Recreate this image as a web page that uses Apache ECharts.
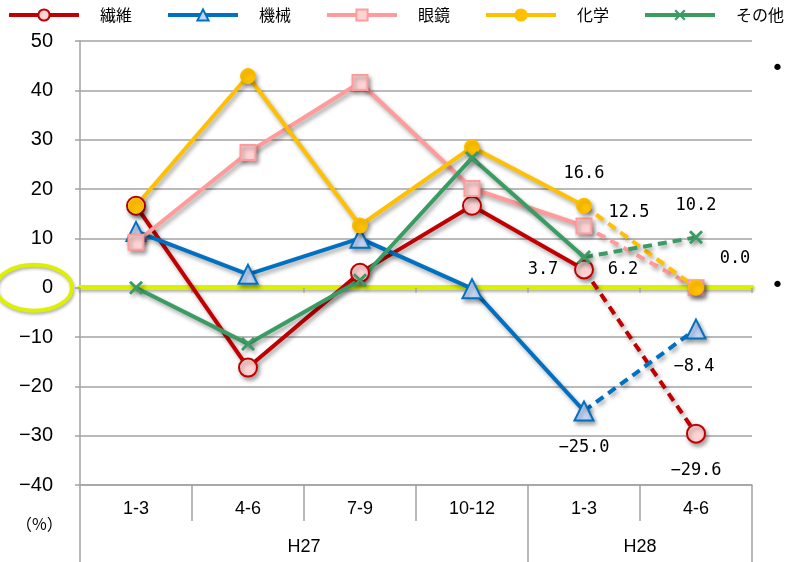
<!DOCTYPE html>
<html><head><meta charset="utf-8">
<script src="https://cdn.jsdelivr.net/npm/echarts@6/dist/echarts.min.js"></script>
<style>html,body{margin:0;padding:0;background:#fff}#c{width:793px;height:562px}</style>
</head><body><div id="c"></div>
<script>
// ---- data ----
const categories = ['1-3', '4-6', '7-9', '10-12', '1-3', '4-6'];
const periodLabels = ['H27', 'H28'];
const periodSpans = [4, 2];
const yMin = -40, yMax = 50, yStep = 10;
const seriesNames = ['繊維', '機械', '眼鏡', '化学', 'その他'];
const seni   = [16.6, -16.2, 3.0, 16.6, 3.7, -29.6];
const kikai  = [11.4, 2.7, 10.0, -0.2, -25.0, -8.4];
const megane = [9.2, 27.4, 41.6, 20.1, 12.5, 0.0];
const kagaku = [16.6, 42.9, 12.6, 28.5, 16.6, 0.0];
const sonota = [0.0, -11.4, 1.5, 26.3, 6.2, 10.2];
const values = { '繊維': seni, '機械': kikai, '眼鏡': megane, '化学': kagaku, 'その他': sonota };

// ---- styles ----
const XPATH = 'path://M2,0 L7,5 L12,0 L14,2 L9,7 L14,12 L12,14 L7,9 L2,14 L0,12 L5,7 L0,2 Z';
const styles = {
  '繊維': { color: '#c00000', symbol: 'circle', size: 18, fill: '#ffd3d3', border: '#c00000', bw: 2 },
  '機械': { color: '#0070c0', symbol: 'triangle', size: 19, fill: '#c3d6f6', border: '#0070c0', bw: 2 },
  '眼鏡': { color: '#ff9b9b', symbol: 'rect', size: 15, fill: '#ffd3d3', border: '#ff9b9b', bw: 2 },
  '化学': { color: '#ffc000', symbol: 'circle', size: 15, fill: '#ffc000', border: '#ffc000', bw: 1 },
  'その他': { color: '#3a9c63', symbol: XPATH, size: 14, fill: '#3a9c63', border: '#3a9c63', bw: 0 }
};
// label offsets (text centre relative to point) for the last two points
const labelOffsets = {
  '繊維': { 4: [-41, 0], 5: [0, 37] },
  '機械': { 4: [0, 37], 5: [-2, 37] },
  '眼鏡': { 4: [45, -13], 5: [39, -29] },
  '化学': { 4: [0, -32] },
  'その他': { 4: [39, 12], 5: [0, -32] }
};
const shadow = { shadowColor: 'rgba(0,0,0,0.35)', shadowBlur: 4, shadowOffsetX: 2, shadowOffsetY: 3 };
const numFont = 'DejaVu Sans Mono';
const jpFont = '"Noto Sans CJK JP", "Noto Sans", sans-serif';
const axisFont = '"Liberation Sans Narrow", "Liberation Sans", sans-serif';
function fmt(v) { const s = Math.abs(v).toFixed(1); return v < 0 ? '−' + s : s; }

function labelFor(name, i, v) {
  const off = labelOffsets[name][i];
  if (!off) return undefined;
  return { show: true, position: 'inside', offset: off, formatter: fmt(v),
           fontFamily: numFont, fontSize: 17, color: '#000' };
}

const solidSeries = [], dashedSeries = [];
seriesNames.forEach(name => {
  const st = styles[name], vals = values[name];
  const common = {
    name, type: 'line', symbol: st.symbol, symbolSize: st.size,
    itemStyle: Object.assign({ color: st.fill, borderColor: st.border, borderWidth: st.bw }, shadow),
    emphasis: { disabled: true }, animation: false
  };
  solidSeries.push(Object.assign({}, common, {
    lineStyle: Object.assign({ color: st.color, width: 4 }, shadow),
    data: vals.map((v, i) => {
      if (i > 4) return null;
      const lab = i === 4 ? labelFor(name, i, v) : undefined;
      return lab ? { value: v, label: lab } : v;
    })
  }));
  dashedSeries.push(Object.assign({}, common, {
    lineStyle: Object.assign({ color: st.color, width: 4, type: [9, 6] }, shadow),
    data: vals.map((v, i) => {
      if (i < 4) return null;
      if (i === 4) return { value: v, symbol: 'none' };
      const lab = labelFor(name, i, v);
      return lab ? { value: v, label: lab } : v;
    })
  }));
});

// period axis values
const periodCenters = [], periodBounds = [0];
let acc = 0;
periodSpans.forEach(s => { periodCenters.push(acc + s / 2); acc += s; periodBounds.push(acc); });

const chart = echarts.init(document.getElementById('c'), null, { renderer: 'canvas' });
const gridLine = { color: '#a3a3a3', width: 1.5 };
chart.setOption({
  backgroundColor: '#fff',
  animation: false,
  legend: {
    data: seriesNames, left: 7, top: 7, padding: 0, width: 1000, itemWidth: 70, itemHeight: 14, itemGap: 34,
    lineStyle: { width: 4, shadowBlur: 0, shadowOffsetX: 0, shadowOffsetY: 0 },
    itemStyle: { shadowBlur: 0, shadowOffsetX: 0, shadowOffsetY: 0 },
    textStyle: { fontFamily: jpFont, fontSize: 16, color: '#000', padding: [0, 0, 0, 16] }
  },
  grid: [
    { left: 80, right: 41, top: 41, bottom: 77 },
    { left: 80, right: 41, top: 485, height: 77 }
  ],
  xAxis: [
    { type: 'category', gridIndex: 0, data: categories, position: 'bottom', boundaryGap: true,
      axisLine: { onZero: false, lineStyle: gridLine },
      axisTick: { show: true, length: 36, lineStyle: gridLine },
      axisLabel: { margin: 15, fontFamily: axisFont, fontSize: 18, color: '#000' },
      splitLine: { show: false } },
    { type: 'category', gridIndex: 0, data: categories, position: 'bottom', boundaryGap: true,
      axisLine: { onZero: true, lineStyle: Object.assign({ color: '#dcf000', width: 5 },
        { shadowColor: 'rgba(0,0,0,0.3)', shadowBlur: 3, shadowOffsetY: 2 }) },
      axisTick: { show: true, length: 5, lineStyle: gridLine },
      axisLabel: { show: false }, splitLine: { show: false } },
    { type: 'value', gridIndex: 1, min: 0, max: categories.length, position: 'bottom',
      axisLine: { show: false },
      axisTick: { show: true, inside: true, length: 77, customValues: periodBounds, lineStyle: gridLine },
      axisLabel: { inside: true, margin: 6, customValues: periodCenters,
        formatter: v => periodLabels[periodCenters.indexOf(v)] || '',
        fontFamily: axisFont, fontSize: 18, color: '#000' },
      splitLine: { show: false } }
  ],
  yAxis: [
    { type: 'value', gridIndex: 0, min: yMin, max: yMax, interval: yStep,
      axisLine: { show: true, lineStyle: gridLine },
      axisTick: { show: true, length: 5, lineStyle: gridLine },
      axisLabel: { margin: 27, fontFamily: axisFont, fontSize: 20, color: '#000',
        formatter: v => v < 0 ? '−' + (-v) : String(v) },
      splitLine: { show: true, lineStyle: gridLine } },
    { type: 'value', gridIndex: 1, show: false, min: 0, max: 1 }
  ],
  series: solidSeries.concat(dashedSeries)
});

const zeroY = chart.convertToPixel({ yAxisIndex: 0 }, 0);
chart.setOption({
  graphic: [
    { type: 'ellipse', shape: { cx: 34, cy: zeroY, rx: 38, ry: 23 },
      style: { fill: 'none', stroke: '#dcf000', lineWidth: 4,
        shadowColor: 'rgba(0,0,0,0.3)', shadowBlur: 3, shadowOffsetX: 1, shadowOffsetY: 2 }, z: 10 },
    { type: 'text', left: 16, top: 516, style: { text: '（%）', fontFamily: jpFont, fontSize: 16, fill: '#000' } },
    { type: 'text', left: 771, top: 58, style: { text: '•', fontFamily: 'DejaVu Sans', fontSize: 22, fill: '#000' } },
    { type: 'text', left: 771, top: zeroY - 12, style: { text: '•', fontFamily: 'DejaVu Sans', fontSize: 22, fill: '#000' } }
  ]
});
</script>
</body></html>
